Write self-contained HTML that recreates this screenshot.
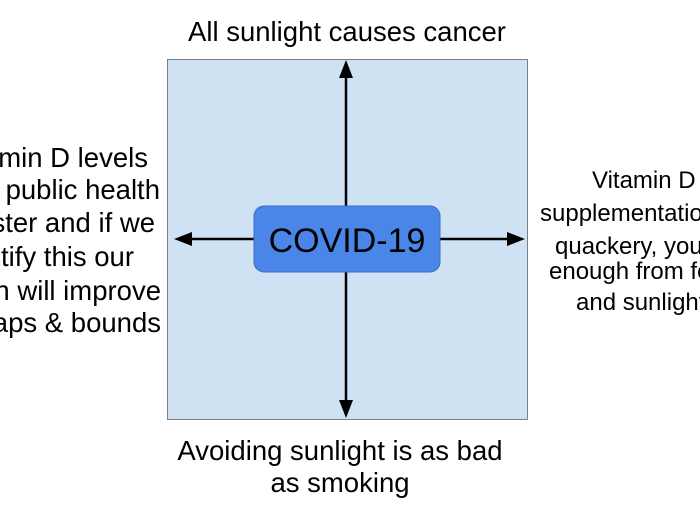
<!DOCTYPE html>
<html><head><style>html,body{margin:0;padding:0;background:#fff;overflow:hidden}</style></head>
<body>
<svg width="700" height="500" xmlns="http://www.w3.org/2000/svg" font-family="Liberation Sans, Arial, sans-serif">
<rect x="167.5" y="59.5" width="360" height="360" fill="#cfe2f3" stroke="#7f7f7f" stroke-width="1"/>
<line x1="346" y1="75" x2="346" y2="402" stroke="#000" stroke-width="2.5"/>
<polygon points="346,60 339,78 353,78" fill="#000"/>
<polygon points="346,418 339,400 353,400" fill="#000"/>
<line x1="190" y1="239" x2="508" y2="239" stroke="#000" stroke-width="2.5"/>
<polygon points="174,239 192,232 192,246" fill="#000"/>
<polygon points="525,239 507,232 507,246" fill="#000"/>
<rect x="254" y="206" width="186" height="66" rx="10" fill="#4a86e8" stroke="#3c6fbf" stroke-width="1"/>
<text x="347" y="252" font-size="34" text-anchor="middle" fill="#000">COVID-19</text>
<text x="347" y="41" font-size="27.5" text-anchor="middle" fill="#000">All sunlight causes cancer</text>
<text x="340" y="460" font-size="27.5" text-anchor="middle" fill="#000">Avoiding sunlight is as bad</text>
<text x="340" y="492" font-size="27.5" text-anchor="middle" fill="#000">as smoking</text>
<g font-size="27.5" text-anchor="end" fill="#000">
<text x="148" y="167">Vitamin D levels</text>
<text x="160" y="199">are a public health</text>
<text x="155" y="232">disaster and if we</text>
<text x="134" y="266">rectify this our</text>
<text x="161" y="300">health will improve</text>
<text x="161" y="332">in leaps &amp; bounds</text>
</g>
<g font-size="24" fill="#000">
<text x="592" y="188">Vitamin D is</text>
<text x="540" y="221">supplementation is</text>
<text x="555" y="254">quackery, you get</text>
<text x="549" y="279">enough from food</text>
<text x="576" y="310">and sunlight</text>
</g>
</svg>
</body></html>
